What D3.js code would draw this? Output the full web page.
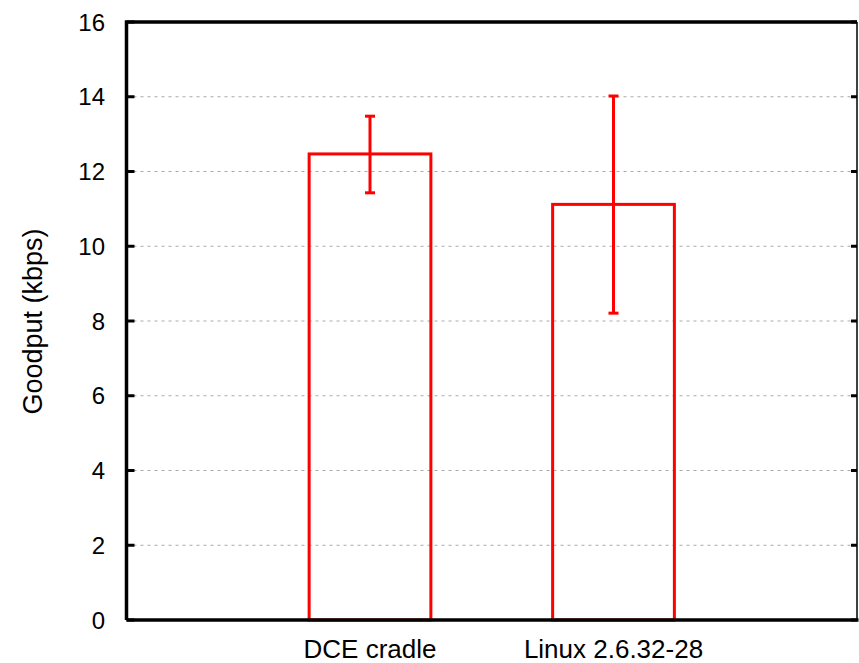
<!DOCTYPE html>
<html>
<head>
<meta charset="utf-8">
<script src="https://cdn.jsdelivr.net/npm/d3@7"></script>
<style>
  body { margin: 0; background: #fff; }
  svg { display: block; }
</style>
</head>
<body>
<svg id="chart" width="859" height="663"></svg>
<script>
// chart data
var categories = ["DCE cradle", "Linux 2.6.32-28"];
var goodput = [12.47, 11.12];
var errLow = [11.43, 8.21];
var errHigh = [13.48, 14.02];
var yTicks = [0, 2, 4, 6, 8, 10, 12, 14, 16];

(function(){

var FONT = "'Liberation Sans', Arial, sans-serif";
var RED = "#ff0000";

var svg = d3.select("#chart");
var plotLeft = 126.5, plotRight = 857, plotTop = 22, plotBottom = 620;

// categories sit at 0 and 1, axis runs -1..2 like gnuplot
var x = d3.scaleLinear().domain([-1, 2]).range([plotLeft, plotRight]);
var y = d3.scaleLinear().domain([0, 16]).range([plotBottom, plotTop]);
var barW = x(0.5) - x(0);

// grid lines
svg.append("g").selectAll("line")
	.data(yTicks.filter(function(t){ return t > 0 && t < 16; }))
	.enter().append("line")
	.attr("x1", plotLeft).attr("x2", plotRight)
	.attr("y1", function(d){ return y(d); })
	.attr("y2", function(d){ return y(d); })
	.attr("stroke", "#a8a8a8")
	.attr("stroke-width", 1)
	.attr("stroke-dasharray", "3,4");

// bars
svg.append("g").selectAll("rect")
	.data(goodput)
	.enter().append("rect")
	.attr("x", function(d, i){ return x(i) - barW / 2; })
	.attr("y", function(d){ return y(d); })
	.attr("width", barW)
	.attr("height", function(d){ return plotBottom - y(d); })
	.attr("fill", "none")
	.attr("stroke", RED)
	.attr("stroke-width", 3);

// error bars
var eb = svg.append("g").attr("stroke", RED).attr("stroke-width", 3);
categories.forEach(function(c, i) {
	var cx = x(i);
	eb.append("line").attr("x1", cx).attr("x2", cx)
		.attr("y1", y(errLow[i])).attr("y2", y(errHigh[i]));
	[errLow[i], errHigh[i]].forEach(function(v) {
		eb.append("line").attr("x1", cx - 5).attr("x2", cx + 5)
			.attr("y1", y(v)).attr("y2", y(v));
	});
});

// y tick marks (inside, both sides)
var ticks = svg.append("g").attr("stroke", "#000").attr("stroke-width", 3);
yTicks.forEach(function(t) {
	ticks.append("line").attr("x1", plotLeft).attr("x2", plotLeft + 8).attr("y1", y(t)).attr("y2", y(t));
	ticks.append("line").attr("x1", plotRight - 6).attr("x2", plotRight).attr("y1", y(t)).attr("y2", y(t));
});

// frame
svg.append("path")
	.attr("d", "M" + plotLeft + "," + plotBottom + "V" + plotTop + "H" + plotRight)
	.attr("fill", "none").attr("stroke", "#000").attr("stroke-width", 3.5);
svg.append("line")
	.attr("x1", plotLeft).attr("x2", plotRight + 1.5).attr("y1", plotBottom).attr("y2", plotBottom)
	.attr("stroke", "#000").attr("stroke-width", 3.5);
svg.append("line")
	.attr("x1", plotRight).attr("x2", plotRight).attr("y1", plotTop).attr("y2", plotBottom)
	.attr("stroke", "#000").attr("stroke-width", 1.5);

// y tick labels
svg.append("g").selectAll("text")
	.data(yTicks)
	.enter().append("text")
	.attr("x", 105)
	.attr("y", function(d){ return y(d) + 8.5; })
	.attr("text-anchor", "end")
	.attr("font-family", FONT)
	.attr("font-size", 24)
	.text(function(d){ return d; });

// x labels
svg.append("g").selectAll("text")
	.data(categories)
	.enter().append("text")
	.attr("x", function(d, i){ return x(i); })
	.attr("y", 658)
	.attr("text-anchor", "middle")
	.attr("font-family", FONT)
	.attr("font-size", 26)
	.text(function(d){ return d; });

// y axis title
svg.append("text")
	.attr("transform", "translate(42,321.5) rotate(-90)")
	.attr("text-anchor", "middle")
	.attr("font-family", FONT)
	.attr("font-size", 27)
	.text("Goodput (kbps)");

})();
</script>
</body>
</html>
